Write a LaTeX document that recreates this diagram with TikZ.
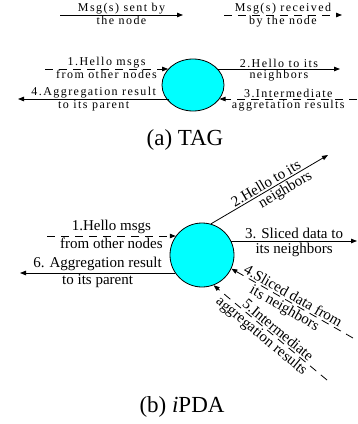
\documentclass[tikz,border=0pt]{standalone}
\usepackage{fontspec}
\setmainfont{Liberation Serif}
\newfontfamily\spacedfont[LetterSpace=12]{Liberation Serif}
\usetikzlibrary{arrows.meta,shapes.geometric}
\definecolor{ballcyan}{RGB}{0,255,255}

\begin{document}
\begin{tikzpicture}[x=1pt,y=-1pt,
  lbl/.style={font=\spacedfont\fontsize{12}{14}\selectfont, inner sep=1pt},
  lblb/.style={font=\fontsize{15}{18}\selectfont, inner sep=1.5pt},
  sent/.style={draw=black, line width=0.8pt, -{Triangle[length=6pt,width=4.5pt]}},
  recv/.style={sent, dash pattern=on 8pt off 6pt},
  nodeball/.style={draw=black, line width=0.8pt, fill=ballcyan, inner sep=0pt},
  captext/.style={font=\fontsize{23}{26}\selectfont, inner sep=0pt}
]
\useasboundingbox (0,0) rectangle (357,424);

% legend
\coordinate (ls1) at (60,15);
\coordinate (ls2) at (183,15);
\coordinate (lr1) at (224,15);
\coordinate (lr2) at (342,15);
\draw[sent] (ls1) -- (ls2)
  node[midway,above,lbl] {Msg(s) sent by}
  node[midway,below,lbl] {the node};
\draw[recv] (lr1) -- (lr2)
  node[midway,above,lbl] {Msg(s) received}
  node[midway,below,lbl] {by the node};

% (a) TAG
\node[nodeball, ellipse, minimum width=62pt, minimum height=52pt] (tag) at (193,85) {};
\coordinate (t1) at (45,69);
\coordinate (t2) at (340,69);
\coordinate (t4) at (18,99);
\coordinate (t3) at (357,99);
\draw[recv] (t1) -- (t1 -| tag.147)
  node[midway,above,lbl] {1.Hello msgs}
  node[midway,below,lbl] {from other nodes};
\draw[sent] (tag.33 |- t2) -- (t2)
  node[midway,above,lbl] {2.Hello to its}
  node[midway,below,lbl] {neighbors};
\draw[sent] ([xshift=3pt]t4 -| tag.208) -- (t4)
  node[midway,above,lbl] {4.Aggregation result}
  node[midway,below,lbl] {to its parent};
\draw[recv] (t3) -- (t3 -| tag.332)
  node[midway,above,lbl] {3.Intermediate}
  node[midway,below,lbl] {aggretation results};
\node[captext] (capa) at (185,140) {(a) TAG};

% (b) iPDA
\node[nodeball, circle, minimum size=64pt] (ipda) at (202,255) {};
\coordinate (p1) at (47,236);
\coordinate (p3) at (357,241);
\coordinate (p6) at (20,273);
\coordinate (p2) at (328,155);
\coordinate (p4) at (353,338);
\coordinate (p5) at (327,380);
\draw[recv] (p1) -- (p1 -| ipda.144)
  node[midway,above,lblb] {1.Hello msgs}
  node[midway,below,lblb] {from other nodes};
\draw[sent] (ipda.26 |- p3) -- (p3)
  node[midway,above,lblb] {3. Sliced data to}
  node[midway,below,lblb] {its neighbors};
\draw[sent] (p6 -| ipda.214) -- (p6)
  node[midway,above,lblb] {6. Aggregation result}
  node[midway,below,lblb] {to its parent};
\draw[sent] (ipda.74) -- (p2)
  node[midway,sloped,above,lblb] {2.Hello to its}
  node[pos=0.6,sloped,below,lblb] {neighbors};
\draw[recv] (p4) -- (ipda.335)
  node[pos=0.52,sloped,above,lblb] {4.Sliced data from}
  node[pos=0.53,sloped,below,lblb] {its neighbors};
\draw[recv] (p5) -- (ipda.291)
  node[pos=0.47,sloped,above,lblb] {5.Intermediate}
  node[pos=0.53,sloped,below,lblb] {aggregation results};
\node[captext] (capb) at (182,407) {(b) \textit{i}PDA};
\end{tikzpicture}
\end{document}
